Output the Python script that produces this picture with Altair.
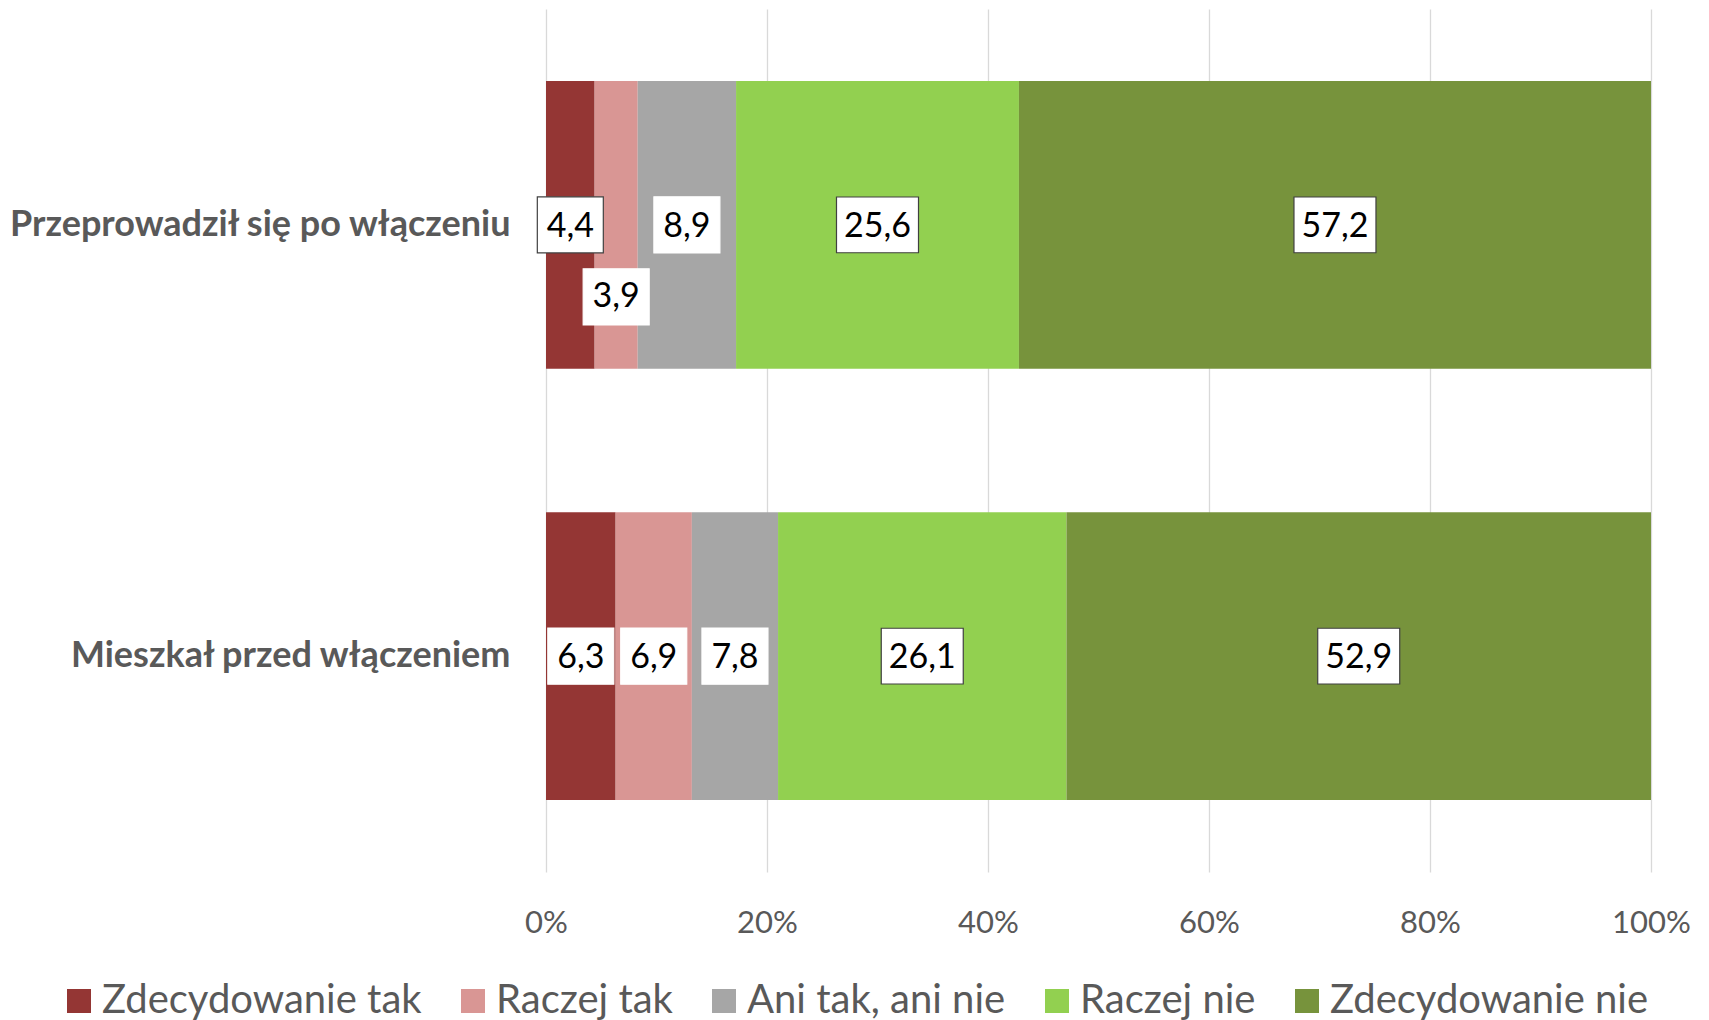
import altair as alt
import pandas as pd

categories = ["Przeprowadził się po włączeniu", "Mieszkał przed włączeniem"]
answers = ["Zdecydowanie tak", "Raczej tak", "Ani tak, ani nie", "Raczej nie", "Zdecydowanie nie"]
values_moved = [4.4, 3.9, 8.9, 25.6, 57.2]
values_lived = [6.3, 6.9, 7.8, 26.1, 52.9]
colors = ["#943634", "#D99694", "#A6A6A6", "#92D050", "#77933C"]
tick_values = [0, 20, 40, 60, 80, 100]

rows = []
for cat, vals in zip(categories, [values_moved, values_lived]):
    for i, (a, v) in enumerate(zip(answers, vals)):
        rows.append({"category": cat, "answer": a, "order": i, "value": v,
                     "label": f"{v:.1f}".replace(".", ",")})
df = pd.DataFrame(rows)

# styling of label boxes (which ones have a dark border, which one is shifted)
bordered = {(categories[0], answers[0]), (categories[0], answers[3]), (categories[0], answers[4]),
            (categories[1], answers[3]), (categories[1], answers[4])}
df["bordered"] = [(c, a) in bordered for c, a in zip(df["category"], df["answer"])]
df["shifted"] = [(c == categories[0] and a == answers[1]) for c, a in zip(df["category"], df["answer"])]

FONT = "Lato"

y_enc = alt.Y("category:N", sort=categories, title=None,
              scale=alt.Scale(paddingInner=0.333, paddingOuter=0.167),
              axis=alt.Axis(labelFont=FONT, labelFontWeight="bold", labelFontSize=36,
                            labelColor="#595959", labelPadding=36, ticks=False,
                            domain=False, labelLimit=600))

bars = alt.Chart(df).mark_bar().encode(
    x=alt.X("value:Q", stack="zero", title=None,
            scale=alt.Scale(domain=[0, 100], nice=False),
            axis=alt.Axis(values=tick_values, labelExpr="datum.value + '%'",
                          labelFont=FONT, labelFontSize=31, labelColor="#595959",
                          labelPadding=36, ticks=False, domain=False, labelFlush=False,
                          grid=True, gridColor="#D9D9D9", gridWidth=1.3)),
    y=y_enc,
    color=alt.Color("answer:N", sort=answers,
                    scale=alt.Scale(domain=answers, range=colors),
                    legend=alt.Legend(title=None, orient="none", direction="horizontal",
                                      columns=5, legendX=-487, legendY=972,
                                      symbolType="square", symbolSize=576,
                                      symbolStrokeWidth=0, labelFont=FONT,
                                      labelFontSize=40, labelColor="#595959",
                                      labelOffset=3, columnPadding=31,
                                      labelLimit=500)),
    order=alt.Order("order:Q"),
)

base = alt.Chart(df).transform_stack(
    stack="value", groupby=["category"], sort=[alt.SortField("order")], as_=["x0", "x1"]
).transform_calculate(mid="(datum.x0 + datum.x1) / 2", n="length(datum.label)")

path3 = "M-1,-0.85L1,-0.85L1,0.85L-1,0.85Z"
path4 = "M-1,-0.68L1,-0.68L1,0.68L-1,0.68Z"

def boxes(shifted):
    return base.transform_filter(f"datum.shifted == {str(shifted).lower()}").mark_point(
        filled=True, fill="white", opacity=1, yOffset=72 if shifted else 0
    ).encode(
        x=alt.X("mid:Q"),
        y=alt.Y("category:N", sort=categories),
        shape=alt.condition("datum.n > 3", alt.value(path4), alt.value(path3)),
        size=alt.condition("datum.n > 3", alt.value(82 * 82), alt.value(66 * 66)),
        stroke=alt.condition("datum.bordered", alt.value("#404040"), alt.value("white")),
        strokeWidth=alt.value(1.2),
    )

def texts(shifted):
    return base.transform_filter(f"datum.shifted == {str(shifted).lower()}").mark_text(
        font=FONT, fontSize=34, color="black", baseline="middle", align="center",
        dy=72 if shifted else 2
    ).encode(
        x=alt.X("mid:Q"),
        y=alt.Y("category:N", sort=categories),
        text="label:N",
    )

chart = alt.layer(bars, boxes(False), boxes(True), texts(False), texts(True)).properties(
    width=1105, height=863,
    autosize=alt.AutoSizeParams(type="none"),
    padding={"left": 538, "top": 1, "right": 50, "bottom": 175},
).configure_view(stroke=None)

chart.save("out.html", embed_options={"renderer": "svg", "actions": False})
